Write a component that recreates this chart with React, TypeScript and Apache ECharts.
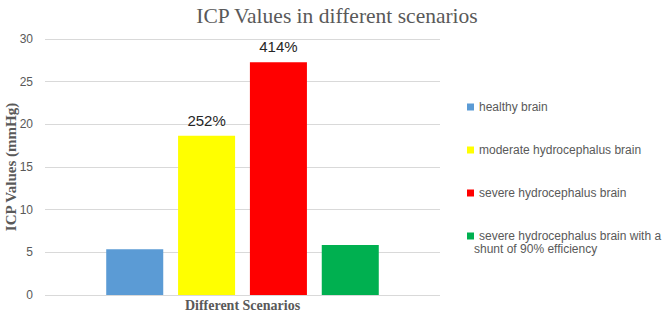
import React, { useEffect, useRef } from "react";
import * as echarts from "echarts";

const categories = ["Different Scenarios"];
const seriesNames = [
  "healthy brain",
  "moderate hydrocephalus brain",
  "severe hydrocephalus brain",
  "severe hydrocephalus brain with a shunt of 90% efficiency",
];
const seriesValues = [5.36, 18.67, 27.27, 5.86];
const seriesLabels = ["", "252%", "414%", ""];
const seriesColors = ["#5B9BD5", "#FFFF00", "#FF0000", "#00B050"];
const yTicks = { min: 0, max: 30, interval: 5 };

export default function App() {
  const ref = useRef<HTMLDivElement>(null);
  useEffect(() => {
    if (!ref.current) return;
    const chart = echarts.init(ref.current, undefined, { renderer: "svg" });
    const sansFont = "'Liberation Sans', 'Open Sans', sans-serif";
    const serifFont = "'Liberation Serif', 'DejaVu Serif', serif";
    chart.setOption({
      animation: false,
      title: {
        text: "ICP Values in different scenarios",
        left: 332,
        textAlign: "center",
        top: 0,
        textStyle: { fontFamily: serifFont, fontSize: 21.5, fontWeight: "normal", color: "#595959" },
      },
      legend: {
        orient: "vertical",
        left: 462,
        top: 95,
        itemWidth: 7,
        itemHeight: 7,
        itemGap: 29,
        icon: "rect",
        textStyle: { fontFamily: sansFont, fontSize: 12, color: "#595959", lineHeight: 14 },
        formatter: (name: string) =>
          name === seriesNames[3] ? "severe hydrocephalus brain with a" : name,
        data: seriesNames,
      },
      graphic: [
        {
          type: "text",
          left: 474,
          top: 243,
          style: {
            text: "shunt of 90% efficiency",
            font: "12px 'Liberation Sans', 'Open Sans', sans-serif",
            fill: "#595959",
          },
        },
      ],
      grid: { left: 45, right: 224, top: 39, bottom: 17, outerBoundsMode: "none", containLabel: false },
      xAxis: {
        type: "category",
        data: categories,
        axisLine: { show: false },
        axisTick: { show: false },
        axisLabel: {
          margin: 3,
          fontFamily: serifFont,
          fontWeight: "bold",
          fontSize: 14,
          color: "#595959",
        },
      },
      yAxis: {
        type: "value",
        min: yTicks.min,
        max: yTicks.max,
        interval: yTicks.interval,
        name: "ICP Values (mmHg)",
        nameLocation: "middle",
        nameGap: 27,
        nameMoveOverlap: false,
        nameTextStyle: { fontFamily: serifFont, fontWeight: "bold", fontSize: 15, color: "#595959" },
        axisLine: { show: false },
        axisTick: { show: false },
        axisLabel: { margin: 12, fontFamily: sansFont, fontSize: 12, color: "#595959" },
        splitLine: { lineStyle: { color: "#D9D9D9", width: 1 } },
      },
      series: seriesNames.map((name, i) => ({
        type: "bar",
        name,
        data: [seriesValues[i]],
        barCategoryGap: "31%",
        barGap: "26%",
        itemStyle: { color: seriesColors[i] },
        label: {
          show: seriesLabels[i] !== "",
          position: "top",
          distance: 8,
          formatter: () => seriesLabels[i],
          fontFamily: sansFont,
          fontSize: 15,
          color: "#262626",
        },
      })),
    });
    return () => chart.dispose();
  }, []);
  return <div ref={ref} style={{ width: 664, height: 312, position: "absolute", left: 0, top: 0 }} />;
}
